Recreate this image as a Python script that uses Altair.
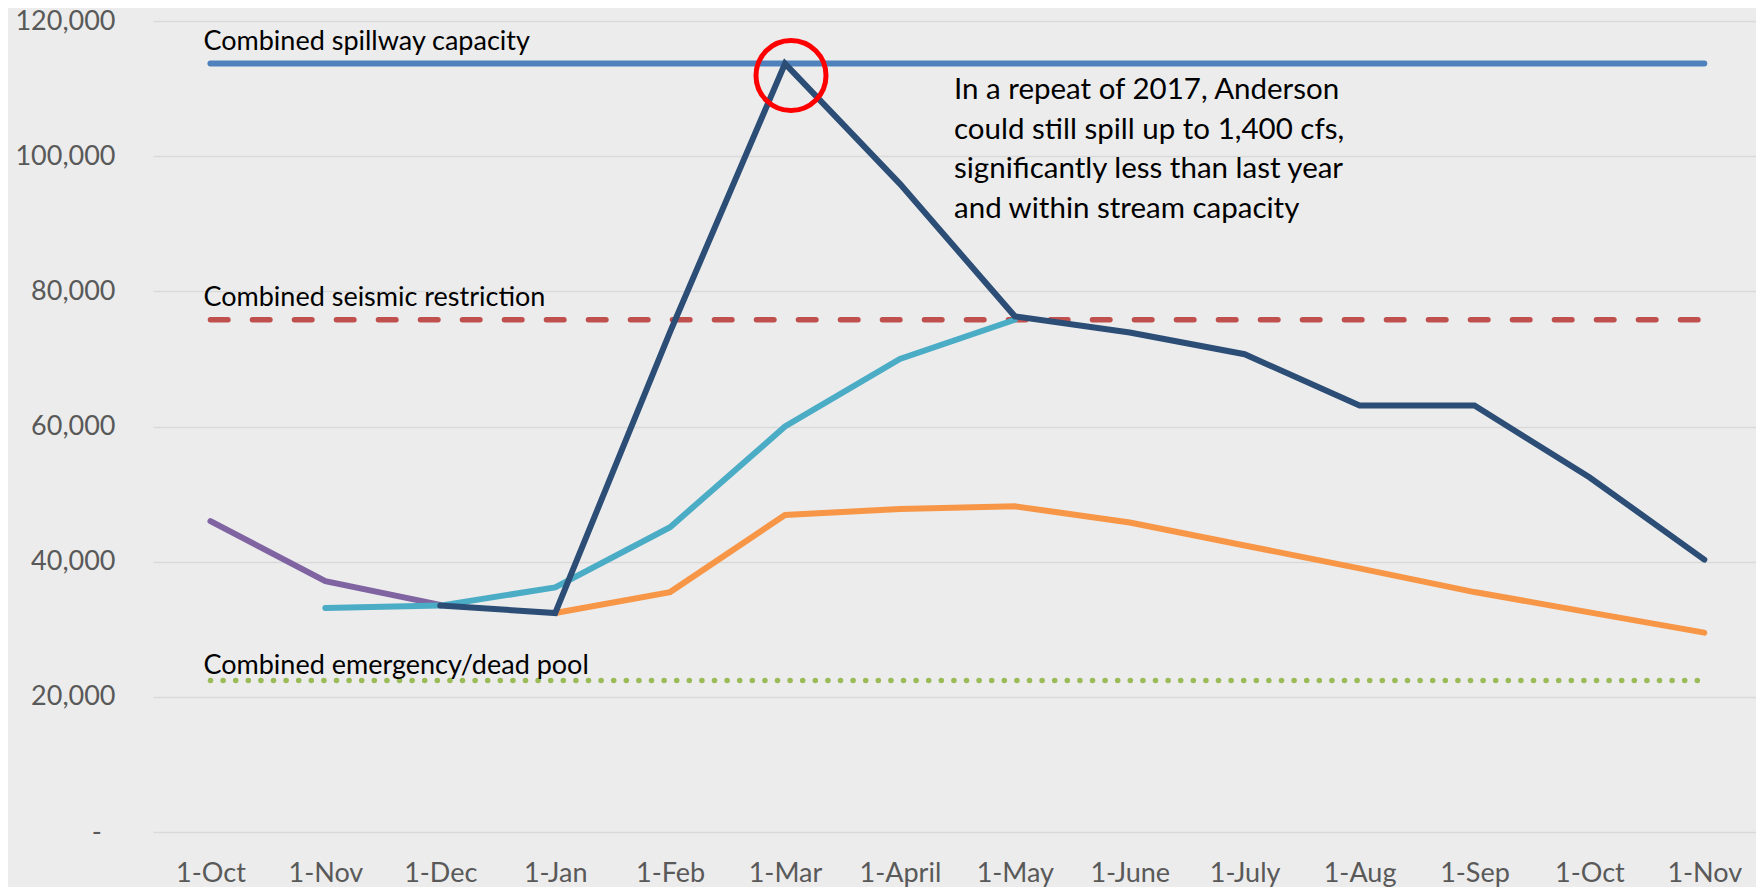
import json
import altair as alt
import pandas as pd

FONT = "Lato"

# ---- data ----
months = ["1-Oct", "1-Nov", "1-Dec", "1-Jan", "1-Feb", "1-Mar", "1-April",
          "1-May", "1-June", "1-July", "1-Aug", "1-Sep", "1-Oct", "1-Nov"]

purple_start = 0
purple_values = [46000, 37100, 33600]

cyan_start = 1
cyan_values = [33150, 33500, 36200, 45100, 60000, 70000, 75800]

navy_start = 2
navy_values = [33500, 32400, 74000, 113700, 95900, 76300, 73900, 70700,
               63100, 63100, 52500, 40300]

orange_start = 3
orange_values = [32400, 35500, 46900, 47800, 48200, 45800, 42400, 39000,
                 35500, 32500, 29500]

ref_names = ["Combined spillway capacity", "Combined seismic restriction",
             "Combined emergency/dead pool"]
ref_values = [113700, 75800, 22400]

callout_lines = ["In a repeat of 2017, Anderson",
                 "could still spill up to 1,400 cfs,",
                 "significantly less than last year",
                 "and within stream capacity"]

y_ticks = [0, 20000, 40000, 60000, 80000, 100000, 120000]


def series_df(start, values):
    return pd.DataFrame({"i": list(range(start, start + len(values))), "v": values})


label_expr = json.dumps(months) + "[datum.value]"

x_enc = alt.X(
    "i:Q",
    title=None,
    scale=alt.Scale(domain=[-0.5, 13.45], nice=False, zero=False),
    axis=alt.Axis(values=list(range(len(months))), labelExpr=label_expr,
                  grid=False, domain=False, ticks=False, labelFlush=False,
                  labelOverlap=False, labelPadding=28, labelFontSize=27,
                  labelColor="#595959", labelFont=FONT),
)
y_enc = alt.Y(
    "v:Q",
    title=None,
    scale=alt.Scale(domain=[0, 120000], nice=False),
    axis=alt.Axis(values=y_ticks,
                  labelExpr="datum.value == 0 ? '-\u00a0\u00a0\u200b' : format(datum.value, ',')",
                  gridColor="#D9D9D9", gridWidth=1.5, domain=False, ticks=False,
                  labelPadding=38, labelFontSize=27, labelColor="#595959",
                  labelFont=FONT, labelFlush=False),
)

layers = []

# reference lines
ref_styles = [
    dict(color="#4F81BD", strokeWidth=6, strokeCap="round"),
    dict(color="#C0504D", strokeWidth=5.5, strokeCap="round", strokeDash=[17.5, 24.5]),
    dict(color="#9BBB59", strokeWidth=5.5, strokeCap="round", strokeDash=[0.1, 12.5]),
]
ref_text_dy = [-14, -14, -7]
for name, val, style, dy in zip(ref_names, ref_values, ref_styles, ref_text_dy):
    df = pd.DataFrame({"i": [0], "i2": [len(months) - 1], "v": [val], "t": [name]})
    layers.append(alt.Chart(df).mark_rule(**style).encode(x=x_enc, x2="i2:Q", y=y_enc))
    layers.append(
        alt.Chart(df).mark_text(align="left", baseline="alphabetic", dx=-7, dy=dy,
                                fontSize=27, font=FONT, color="#000000")
        .encode(x=x_enc, y=y_enc, text="t:N")
    )

# data series
series = [
    (orange_start, orange_values, "#F79646"),
    (purple_start, purple_values, "#8064A2"),
    (cyan_start, cyan_values, "#4BACC6"),
    (navy_start, navy_values, "#2C4D75"),
]
for start, vals, color in series:
    layers.append(
        alt.Chart(series_df(start, vals))
        .mark_line(color=color, strokeWidth=6, strokeCap="round")
        .encode(x=x_enc, y=y_enc)
    )

# red highlight circle around the navy peak
peak_val = max(navy_values)
peak_i = navy_start + navy_values.index(peak_val)
peak_df = pd.DataFrame({"i": [peak_i], "v": [peak_val]})
layers.append(
    alt.Chart(peak_df).mark_point(shape="circle", filled=False, size=4900,
                                  stroke="#FF0000", strokeWidth=5,
                                  xOffset=6, yOffset=12, opacity=1)
    .encode(x=x_enc, y=y_enc)
)

# callout text
layers.append(
    alt.Chart(peak_df).mark_text(text=callout_lines, align="left", baseline="alphabetic",
                                 lineHeight=39.5, dx=169, dy=35.5, fontSize=29.5,
                                 font=FONT, color="#000000")
    .encode(x=x_enc, y=y_enc)
)

chart = (
    alt.layer(*layers)
    .properties(width=1603, height=811, background="#ECECEC",
                padding={"left": 145, "top": 13, "right": 0, "bottom": 55},
                autosize=alt.AutoSizeParams(type="none"))
    .configure_view(stroke=None, fill="#ECECEC")
)

chart.save("out.html", embed_options={"renderer": "svg", "actions": False})
